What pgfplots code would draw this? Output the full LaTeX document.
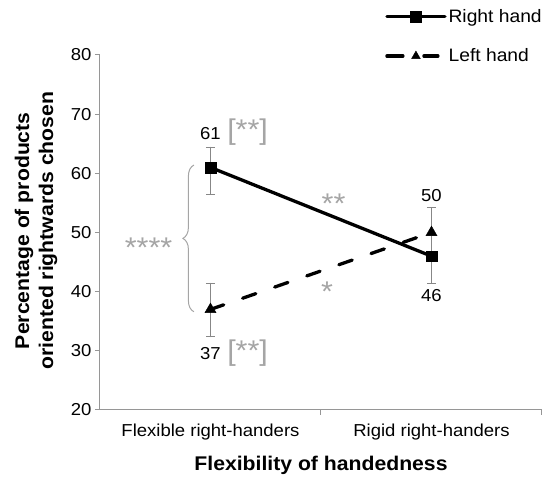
\documentclass[border=0pt]{standalone}
\usepackage{fontspec}
\setmainfont{Liberation Sans}[FakeStretch=1.07]
\usepackage{pgfplots}
\pgfplotsset{compat=1.18}
\usetikzlibrary{decorations.pathreplacing}
\definecolor{axisgray}{RGB}{150,150,150}
\definecolor{annot}{RGB}{165,165,165}
\definecolor{errgray}{RGB}{135,135,135}
\newcommand\nf{\fontsize{17.3}{20.8}\selectfont}
\newcommand\lf{\fontsize{18}{21}\selectfont}
\newcommand\tf{\fontsize{19.8}{24}\selectfont\bfseries}
\newcommand\af{\fontsize{28.5}{32}\selectfont}
\begin{document}
\begin{tikzpicture}
\begin{axis}[
  scale only axis, width=442pt, height=355pt,
  xmin=-0.5, xmax=1.5, ymin=20, ymax=80,
  ytick={20,30,...,80},
  xtick={0,1},
  xticklabels={Flexible right-handers, Rigid right-handers},
  minor xtick={0.5,1.5},
  major x tick style={draw=none},
  axis x line*=bottom, axis y line*=left,
  axis line style={axisgray, line width=1pt},
  tick style={axisgray, line width=1pt},
  tick align=outside,
  major tick length=5pt, minor tick length=5pt,
  /pgf/number format/assume math mode=true,
  tick label style={font=\nf, black},
  xticklabel style={yshift=-5pt},
  xlabel={Flexibility of handedness},
  ylabel={Percentage of products\\oriented rightwards chosen},
  every axis x label/.style={at={(axis description cs:0.5,-0.1718)}, anchor=base, font=\tf},
  every axis y label/.style={at={(axis description cs:-0.0962,0.505)}, rotate=90, anchor=south, font=\tf, align=center, inner sep=0pt},
  clip=false,
  legend style={at={(axis description cs:0.645,1.135)}, anchor=north west, draw=none, fill=none, inner sep=0pt, row sep=21pt, font=\lf, cells={anchor=west}, /tikz/every even column/.append style={column sep=3pt}},
  legend cell align=left,
]
\addplot[black, line width=3.3pt, line cap=round, mark=square*, mark size=5.4pt,
  mark options={solid, line width=0.4pt},
  legend image code/.code={
    \draw[solid, mark=none] (0pt,0pt) -- (58pt,0pt);
    \draw[solid] plot coordinates {(29pt,0pt)};
  },
  error bars/.cd, y dir=both, y explicit,
  error bar style={errgray, line width=1pt, solid},
  error mark=|,
  error mark options={errgray, line width=1pt, mark size=4.5pt}]
coordinates {
  (0,61) += (0,3.4) -= (0,4.5)
  (1,46) += (0,3.5) -= (0,4.6)
};
\addlegendentry{Right hand}
\addplot[black, line width=3.3pt, line cap=round, dash pattern=on 14pt off 20pt,
  mark=triangle*, mark size=6.4pt, mark options={solid, line width=0.4pt},
  legend image code/.code={
    \draw[solid, mark=none] (0pt,0pt) -- (16pt,0pt);
    \draw[solid, mark=none] (37pt,0pt) -- (51pt,0pt);
    \draw[solid, mark size=5pt] plot coordinates {(29pt,0pt)};
    \path (58pt,0pt);
  },
  error bars/.cd, y dir=both, y explicit,
  error bar style={errgray, line width=1pt, solid},
  error mark=|,
  error mark options={errgray, line width=1pt, mark size=4.5pt}]
coordinates {
  (0,37) += (0,4.4) -= (0,4.6)
  (1,50) += (0,4.2) -= (0,0.5)
};
\addlegendentry{Left hand}
% annotations
\node[font=\nf] at (axis cs:0,66.8) {61};
\node[font=\af, text=annot, anchor=west, inner sep=0pt] at (axis cs:0.075,67) {[**]};
\node[font=\nf] at (axis cs:0,29.6) {37};
\node[font=\af, text=annot, anchor=west, inner sep=0pt] at (axis cs:0.075,29.6) {[**]};
\node[font=\af, text=annot, anchor=base, inner sep=0pt] at (axis cs:-0.28,45.7) {****};
\draw[annot, line width=1pt, decorate, decoration={brace, amplitude=11pt}] (axis cs:-0.075,36.6) -- (axis cs:-0.075,61.4);
\node[font=\af, text=annot, anchor=base, inner sep=0pt] at (axis cs:0.557,53.2) {**};
\node[font=\af, text=annot, anchor=base, inner sep=0pt] at (axis cs:0.527,38.3) {*};
\node[font=\nf] at (axis cs:1,56.2) {50};
\node[font=\nf] at (axis cs:1,39.3) {46};
\path (rel axis cs:-0.2262,-0.1859) rectangle (rel axis cs:1.0249,1.1549);
\end{axis}
\end{tikzpicture}
\end{document}
